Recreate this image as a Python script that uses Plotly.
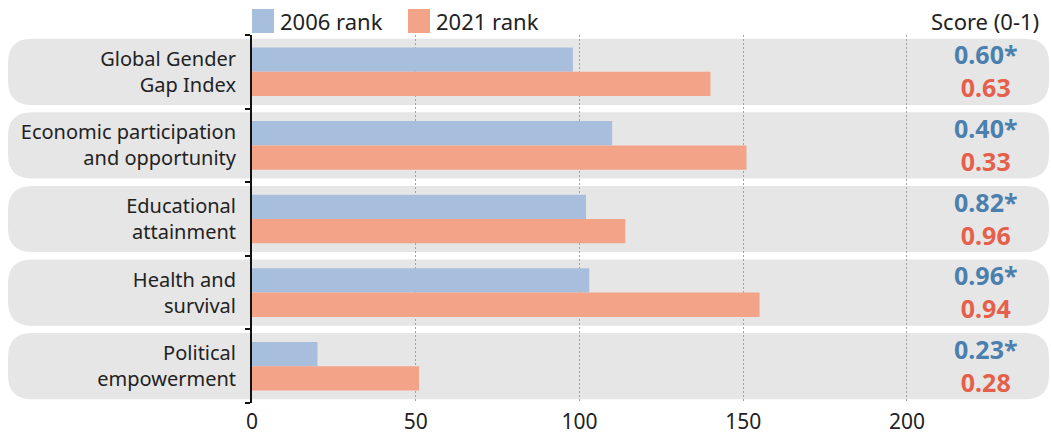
import plotly.graph_objects as go

# ---- data ----
categories = ["Global Gender<br>Gap Index", "Economic participation<br>and opportunity",
              "Educational<br>attainment", "Health and<br>survival", "Political<br>empowerment"]
rank_2006 = [98, 110, 102, 103, 20]
rank_2021 = [140, 151, 114, 155, 51]
score_2006 = ["0.60*", "0.40*", "0.82*", "0.96*", "0.23*"]
score_2021 = ["0.63", "0.33", "0.96", "0.94", "0.28"]
series_names = ["2006 rank", "2021 rank"]
x_ticks = [0, 50, 100, 150, 200]

# ---- style ----
BLUE = "#a8bedd"
SALMON = "#f2a388"
SCORE_BLUE = "#4b7fae"
SCORE_RED = "#e5604a"
PANEL = "#e6e6e6"
TEXT = "#222222"
FONT = "Noto Sans"

W, H = 1051, 437
ML, MR, MT, MB = 252, 0, 35, 34
XMAX = 244.0
pw = W - ML - MR

ypos = list(range(len(categories)))

fig = go.Figure()
fig.add_trace(go.Bar(y=ypos, x=rank_2006, orientation="h", name=series_names[0],
                     marker=dict(color=BLUE, line=dict(width=0)), showlegend=False))
fig.add_trace(go.Bar(y=ypos, x=rank_2021, orientation="h", name=series_names[1],
                     marker=dict(color=SALMON, line=dict(width=0)), showlegend=False))

# rounded panels (paper x, data y)
x0p = (8 - ML) / pw
x1p = (1049 - ML) / pw
rx = 24 / pw
ry = 24 / ((H - MT - MB) / 5)
half = 0.45
shapes = []
for yc in ypos:
    a, b = yc - half, yc + half
    path = (f"M {x0p+rx},{a} L {x1p-rx},{a} Q {x1p},{a} {x1p},{a+ry} "
            f"L {x1p},{b-ry} Q {x1p},{b} {x1p-rx},{b} L {x0p+rx},{b} "
            f"Q {x0p},{b} {x0p},{b-ry} L {x0p},{a+ry} Q {x0p},{a} {x0p+rx},{a} Z")
    shapes.append(dict(type="path", path=path, xref="paper", yref="y",
                       fillcolor=PANEL, line=dict(width=0), layer="below"))

annotations = []
for yc, s1, s2 in zip(ypos, score_2006, score_2021):
    txt = (f"<span style='color:{SCORE_BLUE}'><b>{s1}</b></span><br>"
           f"<span style='color:{SCORE_RED}'><b>{s2}</b></span>")
    annotations.append(dict(x=224, y=yc, xref="x", yref="y", text=txt,
                            showarrow=False, xanchor="center", yanchor="middle", yshift=1,
                            align="center",
                            font=dict(family=FONT, size=25, color=SCORE_BLUE)))

# legend (manual)
plot_h = H - MT - MB
def py(px):
    return 1 + (MT - px) / plot_h
def dx(px):
    return (px - ML) / pw * XMAX

for (sq0, sq1, tx), name, col in zip([(252, 274, 278), (408, 430, 434)], series_names, [BLUE, SALMON]):
    shapes.append(dict(type="rect", xref="x", yref="paper", x0=dx(sq0), x1=dx(sq1),
                       y0=py(33), y1=py(9), fillcolor=col, line=dict(width=0)))
    annotations.append(dict(x=dx(tx), y=py(21), xref="x", yref="paper", text=name,
                            showarrow=False, xanchor="left", yanchor="middle",
                            font=dict(family=FONT, size=22, color=TEXT)))

annotations.append(dict(x=(1041 - ML) / pw, y=py(21), xref="paper", yref="paper",
                        text="Score (0-1)", showarrow=False, xanchor="right", yanchor="middle",
                        font=dict(family=FONT, size=22, color=TEXT)))

fig.update_layout(
    width=W, height=H,
    margin=dict(l=ML, r=MR, t=MT, b=MB, pad=0),
    paper_bgcolor="white", plot_bgcolor="rgba(0,0,0,0)",
    barmode="group", bargap=0.34, bargroupgap=0,
    shapes=shapes, annotations=annotations,
    font=dict(family=FONT, size=20, color=TEXT),
    xaxis=dict(range=[0, XMAX], tickvals=x_ticks, ticks="", showline=False,
               showgrid=True, gridcolor="#a0a0a0", griddash="2px,2px", gridwidth=1,
               zeroline=False, tickfont=dict(size=21, color=TEXT), fixedrange=True,
               ticklabelstandoff=4),
    yaxis=dict(range=[4.5, -0.5], tickvals=ypos, ticktext=categories, ticks="",
               showline=True, linecolor="#111111", linewidth=2, showgrid=False,
               zeroline=False, ticklabelstandoff=10,
               minor=dict(tickvals=[-0.5, 0.5, 1.5, 2.5, 3.5, 4.5], ticks="outside",
                          ticklen=5, tickwidth=2, tickcolor="#111111", showgrid=False),
               tickfont=dict(size=20, color=TEXT), fixedrange=True),
    showlegend=False,
)

fig.write_html("out.html")
